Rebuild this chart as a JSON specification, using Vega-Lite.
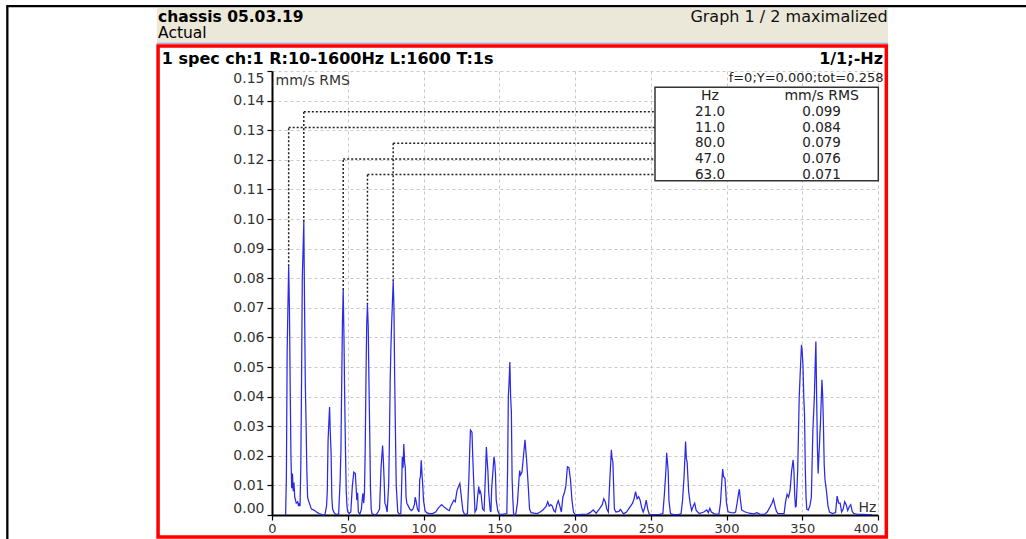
{
  "$schema": "https://vega.github.io/schema/vega-lite/v6.json",
  "width": 606,
  "height": 444,
  "autosize": {"type": "none"},
  "padding": {"left": 272, "top": 71, "right": 148, "bottom": 24},
  "background": "white",
  "config": {"view": {"stroke": null}, "font": "DejaVu Sans"},
  "data": {"values": [{}]},
  "datasets": {
    "spectrum": [
      {"hz":9,"v":0},{"hz":9.5,"v":0.013},{"hz":10,"v":0.055},{"hz":10.5,"v":0.07},{"hz":11,"v":0.084},{"hz":11.5,"v":0.07},{"hz":12,"v":0.044},{"hz":12.5,"v":0.02},{"hz":13,"v":0.009},{"hz":13.5,"v":0.014},{"hz":14,"v":0.008},{"hz":14.5,"v":0.011},{"hz":15,"v":0.006},{"hz":16,"v":0.004},{"hz":17,"v":0.0045},{"hz":17.5,"v":0.003},{"hz":18,"v":0.004},{"hz":18.5,"v":0.003},{"hz":19,"v":0.016},{"hz":19.5,"v":0.045},{"hz":20,"v":0.08},{"hz":21,"v":0.099},{"hz":21.5,"v":0.07},{"hz":22,"v":0.044},{"hz":22.5,"v":0.031},{"hz":23,"v":0.015},{"hz":23.5,"v":0.006},{"hz":24,"v":0.005},{"hz":25,"v":0.0035},{"hz":26,"v":0.002},{"hz":27,"v":0.0018},{"hz":28,"v":0.0015},{"hz":29,"v":0.0012},{"hz":30,"v":0.0008},{"hz":31,"v":0.0005},{"hz":32,"v":0.0003},{"hz":33,"v":0.0001},{"hz":34,"v":0},{"hz":35,"v":0.0002},{"hz":36,"v":0.003},{"hz":36.5,"v":0.008},{"hz":37,"v":0.025},{"hz":37.5,"v":0.031},{"hz":38,"v":0.0365},{"hz":38.5,"v":0.0275},{"hz":39,"v":0.021},{"hz":39.5,"v":0.006},{"hz":40,"v":0.002},{"hz":41,"v":0.0008},{"hz":42,"v":0.0003},{"hz":43,"v":0.0002},{"hz":44,"v":0.0004},{"hz":45,"v":0.012},{"hz":45.5,"v":0.022},{"hz":46,"v":0.044},{"hz":46.5,"v":0.065},{"hz":47,"v":0.076},{"hz":47.5,"v":0.06},{"hz":48,"v":0.039},{"hz":48.5,"v":0.022},{"hz":49,"v":0.008},{"hz":49.5,"v":0.003},{"hz":50,"v":0.001},{"hz":51,"v":0.0005},{"hz":52,"v":0.001},{"hz":53,"v":0.0095},{"hz":54,"v":0.0145},{"hz":55,"v":0.014},{"hz":56,"v":0.005},{"hz":56.5,"v":0.0075},{"hz":57,"v":0.001},{"hz":58,"v":0.0003},{"hz":59,"v":0.002},{"hz":59.5,"v":0.005},{"hz":60,"v":0.0073},{"hz":60.5,"v":0.004},{"hz":61,"v":0.007},{"hz":61.5,"v":0.021},{"hz":62,"v":0.045},{"hz":62.5,"v":0.064},{"hz":63,"v":0.071},{"hz":63.5,"v":0.064},{"hz":64,"v":0.045},{"hz":64.5,"v":0.028},{"hz":65,"v":0.009},{"hz":65.5,"v":0.002},{"hz":66,"v":0.0005},{"hz":67,"v":0.0002},{"hz":68,"v":0},{"hz":69,"v":0.0003},{"hz":70,"v":0.001},{"hz":71,"v":0.002},{"hz":72,"v":0.016},{"hz":73,"v":0.0235},{"hz":73.5,"v":0.0185},{"hz":74,"v":0.012},{"hz":74.5,"v":0.004},{"hz":75,"v":0.0035},{"hz":76,"v":0.001},{"hz":77,"v":0.01},{"hz":77.5,"v":0.025},{"hz":78,"v":0.045},{"hz":78.5,"v":0.057},{"hz":79,"v":0.065},{"hz":80,"v":0.079},{"hz":80.5,"v":0.07},{"hz":81,"v":0.045},{"hz":81.5,"v":0.0275},{"hz":82,"v":0.01},{"hz":83,"v":0.001},{"hz":84,"v":0.0003},{"hz":85,"v":0.0005},{"hz":85.5,"v":0.008},{"hz":86,"v":0.0197},{"hz":86.5,"v":0.016},{"hz":87,"v":0.024},{"hz":87.5,"v":0.018},{"hz":88,"v":0.016},{"hz":88.5,"v":0.006},{"hz":89,"v":0.004},{"hz":90,"v":0.003},{"hz":91,"v":0.002},{"hz":92,"v":0.0015},{"hz":93,"v":0.002},{"hz":94,"v":0.0035},{"hz":94.5,"v":0.006},{"hz":95,"v":0.005},{"hz":96,"v":0.002},{"hz":97,"v":0.001},{"hz":97.5,"v":0.012},{"hz":98,"v":0.013},{"hz":98.5,"v":0.0185},{"hz":99,"v":0.014},{"hz":99.5,"v":0.01},{"hz":100,"v":0.005},{"hz":101,"v":0.0015},{"hz":102,"v":0.0008},{"hz":104,"v":0.0005},{"hz":106,"v":0.0005},{"hz":108,"v":0.001},{"hz":110,"v":0.0025},{"hz":112,"v":0.0035},{"hz":114,"v":0.0025},{"hz":116,"v":0.0018},{"hz":117,"v":0.0015},{"hz":118,"v":0.003},{"hz":120,"v":0.005},{"hz":121,"v":0.0045},{"hz":122,"v":0.008},{"hz":123,"v":0.0095},{"hz":124,"v":0.0107},{"hz":125,"v":0.006},{"hz":126,"v":0.0015},{"hz":127,"v":0.0003},{"hz":128,"v":0.0002},{"hz":129,"v":0.0005},{"hz":130,"v":0.013},{"hz":130.5,"v":0.022},{"hz":131,"v":0.0287},{"hz":132,"v":0.028},{"hz":132.5,"v":0.02},{"hz":133,"v":0.013},{"hz":134,"v":0.001},{"hz":135,"v":0.002},{"hz":135.5,"v":0.005},{"hz":136,"v":0.0075},{"hz":136.5,"v":0.0096},{"hz":137,"v":0.0075},{"hz":137.5,"v":0.008},{"hz":138,"v":0.007},{"hz":139,"v":0.002},{"hz":140,"v":0.0015},{"hz":141,"v":0.015},{"hz":141.5,"v":0.023},{"hz":142,"v":0.0185},{"hz":142.5,"v":0.015},{"hz":143,"v":0.008},{"hz":144,"v":0.0015},{"hz":144.5,"v":0.001},{"hz":145,"v":0.009},{"hz":146,"v":0.016},{"hz":146.5,"v":0.0197},{"hz":147,"v":0.018},{"hz":147.5,"v":0.014},{"hz":148,"v":0.005},{"hz":149,"v":0.0015},{"hz":150,"v":0.0003},{"hz":152,"v":0.0002},{"hz":154,"v":0.0004},{"hz":155,"v":0.0005},{"hz":155.5,"v":0.015},{"hz":156,"v":0.04},{"hz":156.5,"v":0.045},{"hz":157,"v":0.0517},{"hz":157.5,"v":0.04},{"hz":158,"v":0.035},{"hz":158.5,"v":0.012},{"hz":159,"v":0.005},{"hz":159.5,"v":0},{"hz":160,"v":0},{"hz":161,"v":0.0005},{"hz":162,"v":0.004},{"hz":163,"v":0.012},{"hz":163.5,"v":0.015},{"hz":164,"v":0.0135},{"hz":165,"v":0.0145},{"hz":166,"v":0.02},{"hz":167,"v":0.0254},{"hz":167.5,"v":0.022},{"hz":168,"v":0.019},{"hz":169,"v":0.011},{"hz":170,"v":0.002},{"hz":171,"v":0.0008},{"hz":173,"v":0.0006},{"hz":175,"v":0.0005},{"hz":177,"v":0.001},{"hz":179,"v":0.0018},{"hz":181,"v":0.003},{"hz":182,"v":0.0045},{"hz":183,"v":0.003},{"hz":184,"v":0.0035},{"hz":185,"v":0.003},{"hz":186,"v":0.0015},{"hz":187,"v":0.001},{"hz":188,"v":0.0035},{"hz":189,"v":0.0048},{"hz":190,"v":0.003},{"hz":191,"v":0.001},{"hz":192,"v":0.006},{"hz":193,"v":0.0075},{"hz":194,"v":0.01},{"hz":195,"v":0.0163},{"hz":196,"v":0.016},{"hz":197,"v":0.012},{"hz":198,"v":0.005},{"hz":199,"v":0.001},{"hz":200,"v":0.0002},{"hz":202,"v":0.0001},{"hz":205,"v":0.0002},{"hz":208,"v":0.0003},{"hz":210,"v":0.0008},{"hz":212,"v":0.0017},{"hz":214,"v":0.0006},{"hz":216,"v":0.002},{"hz":218,"v":0.0035},{"hz":219,"v":0.0055},{"hz":220,"v":0.0045},{"hz":221,"v":0.002},{"hz":222,"v":0.001},{"hz":223,"v":0.012},{"hz":224,"v":0.022},{"hz":224.5,"v":0.019},{"hz":225,"v":0.018},{"hz":225.5,"v":0.01},{"hz":226,"v":0.002},{"hz":227,"v":0.001},{"hz":229,"v":0.0012},{"hz":230,"v":0.0019},{"hz":232,"v":0.0004},{"hz":234,"v":0.001},{"hz":236,"v":0.0025},{"hz":238,"v":0.004},{"hz":239,"v":0.0055},{"hz":240,"v":0.0079},{"hz":241,"v":0.0055},{"hz":242,"v":0.0062},{"hz":243,"v":0.005},{"hz":244,"v":0.0025},{"hz":245,"v":0.001},{"hz":246,"v":0.0025},{"hz":247,"v":0.005},{"hz":248,"v":0.002},{"hz":249,"v":0.0003},{"hz":250,"v":0.0001},{"hz":253,"v":0.0001},{"hz":256,"v":0.0002},{"hz":258,"v":0.0005},{"hz":259,"v":0.007},{"hz":260,"v":0.015},{"hz":260.5,"v":0.021},{"hz":261,"v":0.018},{"hz":261.5,"v":0.015},{"hz":262,"v":0.005},{"hz":263,"v":0.0005},{"hz":265,"v":0.0001},{"hz":268,"v":0.0001},{"hz":270,"v":0.0004},{"hz":271,"v":0.005},{"hz":272,"v":0.013},{"hz":273,"v":0.0248},{"hz":273.5,"v":0.019},{"hz":274,"v":0.018},{"hz":275,"v":0.008},{"hz":276,"v":0.004},{"hz":277,"v":0.0015},{"hz":278,"v":0.003},{"hz":279,"v":0.004},{"hz":280,"v":0.0015},{"hz":282,"v":0.0005},{"hz":285,"v":0.001},{"hz":287,"v":0.0017},{"hz":288,"v":0.0008},{"hz":289,"v":0.0023},{"hz":290,"v":0.001},{"hz":292,"v":0.0004},{"hz":295,"v":0.0003},{"hz":296,"v":0.004},{"hz":297,"v":0.012},{"hz":297.5,"v":0.0155},{"hz":298,"v":0.013},{"hz":299,"v":0.0124},{"hz":300,"v":0.004},{"hz":301,"v":0.0011},{"hz":303,"v":0.0008},{"hz":305,"v":0.0007},{"hz":306,"v":0.001},{"hz":307,"v":0.004},{"hz":308,"v":0.0075},{"hz":308.5,"v":0.0087},{"hz":309,"v":0.006},{"hz":310,"v":0.0017},{"hz":312,"v":0.0011},{"hz":315,"v":0.0006},{"hz":318,"v":0.0004},{"hz":320,"v":0.0008},{"hz":322,"v":0.0003},{"hz":325,"v":0.0002},{"hz":327,"v":0.0011},{"hz":329,"v":0.003},{"hz":330,"v":0.004},{"hz":331,"v":0.0054},{"hz":332,"v":0.003},{"hz":333,"v":0.0012},{"hz":334,"v":0.0005},{"hz":336,"v":0.0005},{"hz":338,"v":0.0005},{"hz":339,"v":0.0045},{"hz":340,"v":0.007},{"hz":341,"v":0.006},{"hz":342,"v":0.0085},{"hz":343,"v":0.015},{"hz":344,"v":0.0186},{"hz":344.5,"v":0.015},{"hz":345,"v":0.007},{"hz":345.5,"v":0.0028},{"hz":346,"v":0.003},{"hz":347,"v":0.015},{"hz":348,"v":0.04},{"hz":349,"v":0.052},{"hz":349.5,"v":0.0575},{"hz":350,"v":0.055},{"hz":350.5,"v":0.05},{"hz":351,"v":0.04},{"hz":351.5,"v":0.034},{"hz":352,"v":0.016},{"hz":352.5,"v":0.006},{"hz":353,"v":0.002},{"hz":354,"v":0.0017},{"hz":355,"v":0.003},{"hz":356,"v":0.006},{"hz":357,"v":0.0285},{"hz":358,"v":0.04},{"hz":358.5,"v":0.05},{"hz":359,"v":0.0586},{"hz":359.5,"v":0.04},{"hz":360,"v":0.023},{"hz":360.5,"v":0.014},{"hz":361,"v":0.02},{"hz":362,"v":0.031},{"hz":363,"v":0.0457},{"hz":363.5,"v":0.04},{"hz":364,"v":0.03},{"hz":364.5,"v":0.017},{"hz":365,"v":0.012},{"hz":366,"v":0.008},{"hz":367,"v":0.003},{"hz":368,"v":0.001},{"hz":370,"v":0.0005},{"hz":372,"v":0.0008},{"hz":373,"v":0.0064},{"hz":374,"v":0.004},{"hz":375,"v":0.004},{"hz":376,"v":0.001},{"hz":377,"v":0.002},{"hz":378,"v":0.0045},{"hz":379,"v":0.0035},{"hz":380,"v":0.0015},{"hz":381,"v":0.0028},{"hz":382,"v":0.0035},{"hz":383,"v":0.0012},{"hz":384,"v":0.0005},{"hz":386,"v":0.0003},{"hz":388,"v":0.0002},{"hz":390,"v":0.0002},{"hz":393,"v":0.0001},{"hz":396,"v":0.0001}
    ],
    "peaks": [
      {"rank": 1, "hz": 21.0, "v": 0.099},
      {"rank": 2, "hz": 11.0, "v": 0.084},
      {"rank": 3, "hz": 80.0, "v": 0.079},
      {"rank": 4, "hz": 47.0, "v": 0.076},
      {"rank": 5, "hz": 63.0, "v": 0.071}
    ]
  },
  "layer": [
    {
      "data": {"name": "spectrum"},
      "mark": {"type": "line", "color": "#2a2ae6", "strokeWidth": 1.25, "interpolate": "linear"},
      "encoding": {
        "x": {
          "field": "hz", "type": "quantitative",
          "scale": {"domain": [0, 400], "nice": false, "zero": false},
          "axis": {
            "values": [0, 50, 100, 150, 200, 250, 300, 350, 400], "tickCount": 20,
            "title": "Hz", "titleX": 586, "titleY": -4, "titleAlign": "left", "titleBaseline": "alphabetic",
            "titleFontWeight": "normal", "titleFontSize": 14, "titleColor": "#333",
            "labelFontSize": 13, "labelColor": "#333", "labelPadding": 2, "labelOverlap": false,
            "labelAlign": {"condition": {"test": "datum.value == 400", "value": "right"}, "value": "center"},
            "domainColor": "black", "domainWidth": 2, "tickColor": "black", "tickSize": 5, "tickWidth": 1.2,
            "grid": true, "gridColor": "#c8c8c8", "gridDash": [3, 3], "gridWidth": 1
          }
        },
        "y": {
          "field": "v", "type": "quantitative",
          "scale": {"domain": [0, 0.15], "nice": false},
          "axis": {
            "values": [0, 0.01, 0.02, 0.03, 0.04, 0.05, 0.06, 0.07, 0.08, 0.09, 0.1, 0.11, 0.12, 0.13, 0.14, 0.15],
            "tickCount": 30,
            "format": ".2f", "labelFlush": true, "labelOverlap": false,
            "title": "mm/s RMS", "titleAngle": 0, "titleX": 3, "titleY": 2, "titleAlign": "left", "titleBaseline": "top",
            "titleFontWeight": "normal", "titleFontSize": 14, "titleColor": "#333",
            "labelFontSize": 14, "labelColor": "#333", "labelPadding": 3,
            "domainColor": "black", "domainWidth": 2, "tickColor": "black", "tickSize": 5, "tickWidth": 1.2,
            "grid": true, "gridColor": "#c8c8c8", "gridDash": [3, 3], "gridWidth": 1
          }
        }
      }
    },
    {
      "mark": {"type": "rect", "fill": "#ebe8d9"},
      "encoding": {
        "x": {"datum": -76, "type": "quantitative"},
        "x2": {"datum": 406.6},
        "y": {"datum": 0.1713, "type": "quantitative"},
        "y2": {"datum": 0.1594}
      }
    },
    {
      "mark": {"type": "rule", "color": "#8a98d8", "strokeWidth": 1},
      "encoding": {"x": {"datum": -76, "type": "quantitative"}, "x2": {"datum": 406.6}, "y": {"datum": 0.15936, "type": "quantitative"}}
    },
    {
      "mark": {"type": "rect", "fill": null, "fillOpacity": 0, "stroke": "#ff0000", "strokeWidth": 3.5},
      "encoding": {
        "x": {"datum": -75.2, "type": "quantitative"}, "x2": {"datum": 405.5},
        "y": {"datum": 0.15845, "type": "quantitative"}, "y2": {"datum": -0.00743}
      }
    },
    {
      "mark": {"type": "rule", "color": "black", "strokeWidth": 2.3},
      "encoding": {"x": {"datum": -174.7, "type": "quantitative"}, "x2": {"datum": 497.7}, "y": {"datum": 0.17189, "type": "quantitative"}}
    },
    {
      "mark": {"type": "rule", "color": "black", "strokeWidth": 2.3},
      "encoding": {"x": {"datum": -174.7, "type": "quantitative"}, "y": {"datum": 0.1723, "type": "quantitative"}, "y2": {"datum": -0.0085}}
    },
    {
      "mark": {"type": "text", "text": "chassis 05.03.19", "align": "left", "baseline": "alphabetic", "fontSize": 15.5, "fontWeight": "bold", "color": "black"},
      "encoding": {"x": {"datum": -75.2, "type": "quantitative"}, "y": {"datum": 0.16639, "type": "quantitative"}}
    },
    {
      "mark": {"type": "text", "text": "Actual", "align": "left", "baseline": "alphabetic", "fontSize": 15.5, "color": "black"},
      "encoding": {"x": {"datum": -75.2, "type": "quantitative"}, "y": {"datum": 0.16098, "type": "quantitative"}}
    },
    {
      "mark": {"type": "text", "text": "Graph 1 / 2 maximalized", "align": "right", "baseline": "alphabetic", "fontSize": 16, "color": "#111"},
      "encoding": {"x": {"datum": 406.3, "type": "quantitative"}, "y": {"datum": 0.16639, "type": "quantitative"}}
    },
    {
      "mark": {"type": "text", "text": "1 spec ch:1 R:10-1600Hz L:1600 T:1s", "align": "left", "baseline": "alphabetic", "fontSize": 16, "fontWeight": "bold", "color": "black"},
      "encoding": {"x": {"datum": -72.8, "type": "quantitative"}, "y": {"datum": 0.15253, "type": "quantitative"}}
    },
    {
      "mark": {"type": "text", "text": "1/1;-Hz", "align": "right", "baseline": "alphabetic", "fontSize": 16, "fontWeight": "bold", "color": "black"},
      "encoding": {"x": {"datum": 403.3, "type": "quantitative"}, "y": {"datum": 0.15253, "type": "quantitative"}}
    },
    {
      "mark": {"type": "text", "text": "f=0;Y=0.000;tot=0.258", "align": "right", "baseline": "alphabetic", "fontSize": 13, "color": "#222"},
      "encoding": {"x": {"datum": 403.6, "type": "quantitative"}, "y": {"datum": 0.14628, "type": "quantitative"}}
    },
    {
      "data": {"name": "peaks"},
      "transform": [{"calculate": "0.1362 - (datum.rank - 1) * 0.0053", "as": "rowY"}],
      "mark": {"type": "rule", "color": "#222", "strokeWidth": 1.5, "strokeDash": [2, 2]},
      "encoding": {"x": {"field": "hz", "type": "quantitative"}, "y": {"field": "v", "type": "quantitative"}, "y2": {"field": "rowY"}}
    },
    {
      "data": {"name": "peaks"},
      "transform": [{"calculate": "0.1362 - (datum.rank - 1) * 0.0053", "as": "rowY"}],
      "mark": {"type": "rule", "color": "#222", "strokeWidth": 1.5, "strokeDash": [2, 2]},
      "encoding": {"x": {"field": "hz", "type": "quantitative"}, "x2": {"datum": 252.8}, "y": {"field": "rowY", "type": "quantitative"}}
    },
    {
      "mark": {"type": "rect", "fill": "white", "stroke": "#333", "strokeWidth": 1.5},
      "encoding": {"x": {"datum": 252.8, "type": "quantitative"}, "x2": {"datum": 400.2}, "y": {"datum": 0.14449, "type": "quantitative"}, "y2": {"datum": 0.11294}}
    },
    {
      "mark": {"type": "text", "text": "Hz", "align": "center", "baseline": "middle", "fontSize": 14, "color": "#222"},
      "encoding": {"x": {"datum": 289.1, "type": "quantitative"}, "y": {"datum": 0.14172, "type": "quantitative"}}
    },
    {
      "mark": {"type": "text", "text": "mm/s RMS", "align": "center", "baseline": "middle", "fontSize": 14, "color": "#222"},
      "encoding": {"x": {"datum": 362.8, "type": "quantitative"}, "y": {"datum": 0.14172, "type": "quantitative"}}
    },
    {
      "data": {"name": "peaks"},
      "transform": [{"calculate": "0.1362 - (datum.rank - 1) * 0.0053", "as": "rowY"}],
      "mark": {"type": "text", "align": "center", "baseline": "middle", "fontSize": 13.5, "color": "#222"},
      "encoding": {"x": {"datum": 289.1, "type": "quantitative"}, "y": {"field": "rowY", "type": "quantitative"}, "text": {"field": "hz", "type": "quantitative", "format": ".1f"}}
    },
    {
      "data": {"name": "peaks"},
      "transform": [{"calculate": "0.1362 - (datum.rank - 1) * 0.0053", "as": "rowY"}],
      "mark": {"type": "text", "align": "center", "baseline": "middle", "fontSize": 13.5, "color": "#222"},
      "encoding": {"x": {"datum": 362.8, "type": "quantitative"}, "y": {"field": "rowY", "type": "quantitative"}, "text": {"field": "v", "type": "quantitative", "format": ".3f"}}
    }
  ]
}
